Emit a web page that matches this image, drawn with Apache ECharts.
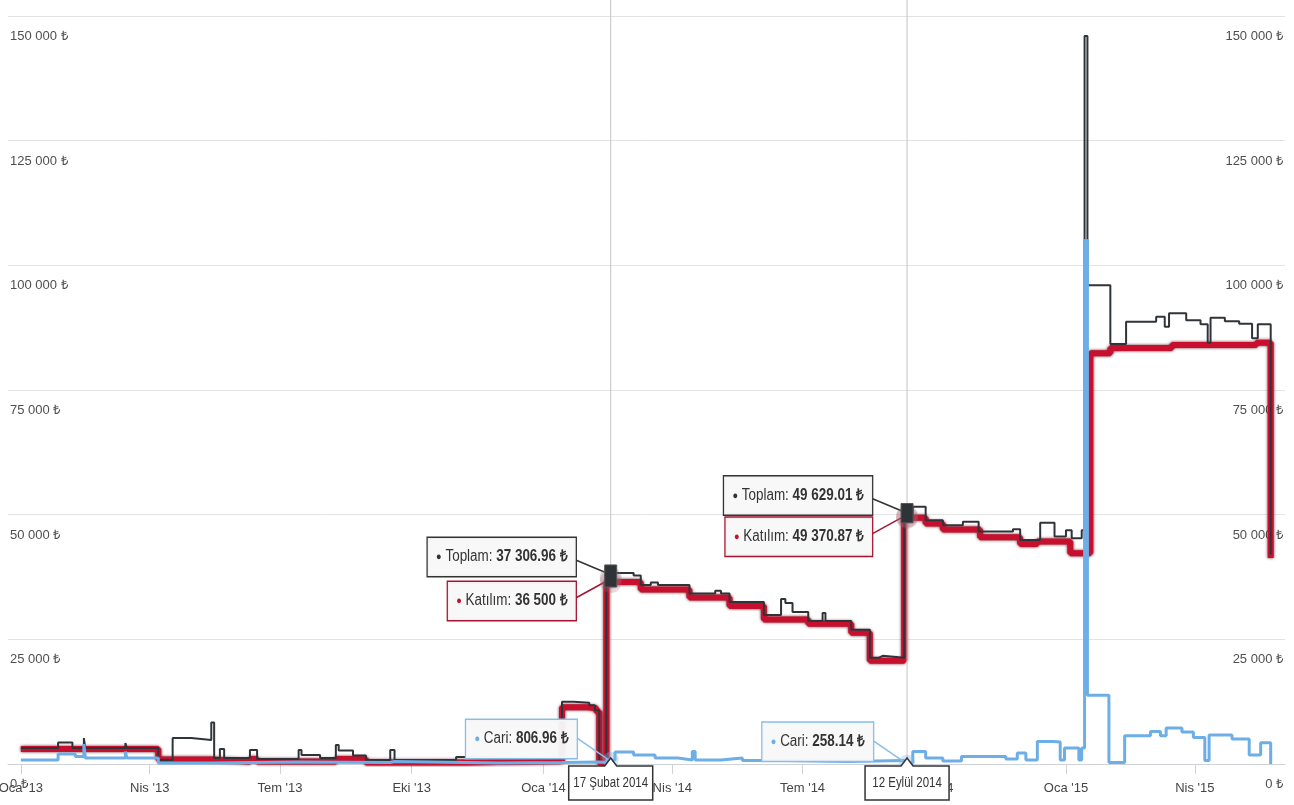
<!DOCTYPE html>
<html>
<head>
<meta charset="utf-8">
<title>Hesap bakiyeleri</title>
<script src="https://cdn.jsdelivr.net/npm/echarts@6/dist/echarts.min.js"></script>
<style>
  html, body { margin: 0; padding: 0; background: #fff; }
  #chart { width: 1294px; height: 805px; }
</style>
</head>
<body>
<div id="chart"></div>
<script>
// eksen etiketleri
const tickDates = ['2013-01-01', '2013-04-01', '2013-07-01', '2013-10-01', '2014-01-01',
  '2014-04-01', '2014-07-01', '2014-10-01', '2015-01-01', '2015-04-01'];
const monthNames = ['Oca', 'Şub', 'Mar', 'Nis', 'May', 'Haz', 'Tem', 'Ağu', 'Eyl', 'Eki', 'Kas', 'Ara'];
const xRange = ['2012-12-23', '2015-06-03'];

// Toplam bakiye (değişim noktaları)
const toplamData = [
  ['2013-01-01', 3200], ['2013-01-27', 4300], ['2013-02-06', 3200], ['2013-02-14', 5200], ['2013-02-15', 3200],
  ['2013-03-15', 4200], ['2013-03-16', 3200], ['2013-04-07', 800], ['2013-04-17', 5200], ['2013-04-30', 4800],
  ['2013-05-14', 8300], ['2013-05-16', 1200], ['2013-05-20', 3000], ['2013-05-23', 1200], ['2013-06-10', 2800],
  ['2013-06-15', 1000], ['2013-07-14', 2800], ['2013-07-16', 1800], ['2013-07-29', 1200], ['2013-08-09', 3800],
  ['2013-08-11', 2700], ['2013-08-21', 1700], ['2013-08-30', 800], ['2013-09-16', 2800], ['2013-09-19', 800],
  ['2013-11-01', 1400], ['2013-11-08', 1000], ['2014-01-14', 12500], ['2014-01-22', 12300], ['2014-02-02', 11800],
  ['2014-02-06', 10800], ['2014-02-09', 300], ['2014-02-14', 37306.96], ['2014-02-19', 38300], ['2014-03-05', 37800],
  ['2014-03-10', 35900], ['2014-03-17', 36400], ['2014-03-22', 35900], ['2014-04-13', 34200], ['2014-05-01', 34750],
  ['2014-05-05', 34200], ['2014-05-11', 32500], ['2014-06-04', 29900], ['2014-06-16', 33100], ['2014-06-19', 32300],
  ['2014-06-24', 30500], ['2014-07-05', 28700], ['2014-07-15', 30300], ['2014-07-17', 28700], ['2014-08-04', 26900],
  ['2014-08-17', 21300], ['2014-08-23', 21700], ['2014-08-26', 21300], ['2014-09-10', 49629.01], ['2014-09-16', 51600],
  ['2014-09-25', 48900], ['2014-10-07', 47900], ['2014-10-21', 48600], ['2014-11-01', 46600], ['2014-11-25', 47100],
  ['2014-11-30', 44900], ['2014-12-14', 48400], ['2014-12-24', 45600], ['2015-01-01', 46900], ['2015-01-05', 45250],
  ['2015-01-12', 46900], ['2015-01-14', 146000], ['2015-01-16', 96000], ['2015-02-01', 84200], ['2015-02-12', 88700],
  ['2015-03-05', 89700], ['2015-03-11', 87700], ['2015-03-14', 90400], ['2015-03-26', 89000], ['2015-04-05', 88200],
  ['2015-04-10', 84500], ['2015-04-12', 89500], ['2015-04-22', 88800], ['2015-05-02', 88300], ['2015-05-11', 85400],
  ['2015-05-15', 88200], ['2015-05-24', 42000]
];

// Katılım hesabı
const katilimData = [
  ['2013-01-01', 3000], ['2013-04-07', 900], ['2013-05-14', 500], ['2013-06-10', 1000], ['2013-06-15', 500],
  ['2013-08-09', 1000], ['2013-08-30', 300], ['2013-11-08', 600], ['2014-01-14', 11400], ['2014-02-01', 11200],
  ['2014-02-07', 10500], ['2014-02-09', 200], ['2014-02-14', 36500], ['2014-03-10', 35000], ['2014-04-13', 33400],
  ['2014-05-11', 31700], ['2014-06-04', 29000], ['2014-07-05', 28100], ['2014-08-04', 26300], ['2014-08-17', 20700],
  ['2014-09-10', 49370.87], ['2014-09-25', 48250], ['2014-10-07', 47050], ['2014-11-02', 45450], ['2014-11-30', 44100],
  ['2014-12-12', 44600], ['2015-01-04', 42250], ['2015-01-18', 82350], ['2015-02-01', 83400], ['2015-03-16', 84000],
  ['2015-05-14', 84470], ['2015-05-24', 41300]
];

// Cari hesap
const cariData = [
  ['2013-01-01', 800], ['2013-01-27', 2000], ['2013-02-08', 1500], ['2013-02-14', 4000], ['2013-02-15', 1200],
  ['2013-03-15', 2500], ['2013-03-16', 1200], ['2013-04-07', 200], ['2013-05-14', 400], ['2013-07-14', 300],
  ['2013-09-16', 500], ['2013-09-19', 200], ['2013-12-01', 300], ['2014-01-14', 400], ['2014-02-09', 300],
  ['2014-02-14', 806.96], ['2014-02-20', 2400], ['2014-03-05', 1800], ['2014-03-20', 1200], ['2014-04-05', 800],
  ['2014-04-15', 2500], ['2014-04-17', 800], ['2014-05-05', 1200], ['2014-05-20', 700], ['2014-06-20', 500],
  ['2014-08-01', 700], ['2014-09-10', 258.14], ['2014-09-16', 2500], ['2014-09-25', 1200], ['2014-10-07', 600],
  ['2014-10-20', 1500], ['2014-11-20', 1000], ['2014-11-28', 2200], ['2014-12-04', 800], ['2014-12-12', 4500],
  ['2014-12-23', 4400], ['2014-12-28', 800], ['2014-12-31', 3200], ['2015-01-10', 800], ['2015-01-12', 3200],
  ['2015-01-14', 105000], ['2015-01-16', 13800], ['2015-01-31', 300], ['2015-02-11', 5660], ['2015-03-01', 6500],
  ['2015-03-08', 5660], ['2015-03-12', 7200], ['2015-03-23', 6400], ['2015-03-31', 5300], ['2015-04-08', 700],
  ['2015-04-11', 5800], ['2015-04-27', 5000], ['2015-05-09', 1800], ['2015-05-17', 4250], ['2015-05-24', 0]
];

// ekran görüntüsündeki iki tooltip
const hoverDates = ['2014-02-17', '2014-09-12'];
const hoverLabels = ['17 Şubat 2014', '12 Eylül 2014'];
const hoverToplam = [37306.96, 49629.01];
const hoverKatilim = [36500, 49370.87];
const hoverCari = [806.96, 258.14];

const FONT = "'Liberation Sans', Arial, sans-serif";
const NARROW = 0.84; // dar yazı tipi etkisi
const C_TOPLAM = '#2f3439';
const C_KATILIM = '#c8102e';
const C_CARI = '#6eaee6';

// tarih -> UTC zaman damgası
function ts(s) {
  const p = s.split('-').map(Number);
  return Date.UTC(p[0], p[1] - 1, p[2]);
}
const toTs = arr => arr.map(d => [ts(d[0]), d[1]]);

function tl(v) {
  const parts = String(v).split('.');
  const intPart = parts[0].replace(/\B(?=(\d{3})+(?!\d))/g, ' ');
  return intPart + (parts[1] ? '.' + parts[1] : '') + ' ₺';
}

const chart = echarts.init(document.getElementById('chart'));

const yLabel = {
  inside: true,
  margin: 2,
  verticalAlign: 'top',
  padding: [14, 0, 0, 0],
  color: '#4f4f4f',
  fontSize: 13,
  fontFamily: FONT,
  formatter: tl
};

const tickTs = tickDates.map(ts);

chart.setOption({
  animation: false,
  backgroundColor: '#fff',
  grid: { left: 8, right: 9, top: 16, bottom: 41, outerBoundsMode: 'none', containLabel: false },
  xAxis: {
    type: 'value',
    min: ts(xRange[0]),
    max: ts(xRange[1]),
    axisLine: { lineStyle: { color: '#cfd3d8' } },
    axisTick: { customValues: tickTs, length: 10, lineStyle: { color: '#cfd3d8' } },
    axisLabel: {
      customValues: tickTs,
      margin: 18,
      color: '#454545',
      fontSize: 13,
      fontFamily: FONT,
      formatter: function (val) {
        const d = new Date(val);
        return monthNames[d.getUTCMonth()] + " '" + String(d.getUTCFullYear()).slice(2);
      }
    },
    splitLine: { show: false }
  },
  yAxis: [
    {
      type: 'value', position: 'left', min: 0, max: 150000, interval: 25000,
      axisLine: { show: false }, axisTick: { show: false },
      axisLabel: yLabel,
      splitLine: { lineStyle: { color: '#e3e3e3' } }
    },
    {
      type: 'value', position: 'right', min: 0, max: 150000, interval: 25000,
      axisLine: { show: false }, axisTick: { show: false },
      axisLabel: yLabel,
      splitLine: { show: false }
    }
  ],
  series: [
    {
      name: 'Katılım', type: 'line', step: 'end', showSymbol: false,
      data: toTs(katilimData), z: 2,
      lineStyle: { color: C_KATILIM, width: 6, shadowColor: 'rgba(80,0,20,0.9)', shadowBlur: 3 },
      itemStyle: { color: C_KATILIM }
    },
    {
      name: 'Toplam', type: 'line', step: 'end', showSymbol: false,
      data: toTs(toplamData), z: 3,
      lineStyle: { color: C_TOPLAM, width: 2 },
      itemStyle: { color: C_TOPLAM }
    },
    {
      name: 'Cari', type: 'line', step: 'end', showSymbol: false,
      data: toTs(cariData), z: 4,
      lineStyle: { color: C_CARI, width: 3 },
      itemStyle: { color: C_CARI }
    }
  ]
});

// tooltip kutuları, çizgiler ve tarih etiketleri
function tipBox(name, value, right, cy, border, dot) {
  return {
    type: 'text', z: 120, x: right, y: cy, scaleX: NARROW,
    style: {
      text: '{d|●} ' + name + ': {b|' + value + '}',
      x: 0, y: 0,
      align: 'right', verticalAlign: 'middle',
      fontSize: 16, fontFamily: FONT, fill: '#333',
      rich: {
        d: { fill: dot, fontSize: 11, fontFamily: FONT },
        b: { fill: '#333', fontSize: 16, fontWeight: 'bold', fontFamily: FONT }
      },
      backgroundColor: 'rgba(248,248,248,0.96)',
      borderColor: border, borderWidth: 1.5,
      padding: [11, 10, 11, 10]
    }
  };
}

const gfx = [];
const toPx = (d, v) => chart.convertToPixel({ xAxisIndex: 0, yAxisIndex: 0 }, [ts(d), v]);
hoverDates.forEach(function (d, i) {
  const pT = toPx(d, hoverToplam[i]);
  const pK = toPx(d, hoverKatilim[i]);
  const pC = toPx(d, hoverCari[i]);
  const base = toPx(d, 0)[1];
  const px = pT[0];
  const right = px - 35;

  gfx.push({ type: 'line', z: 50, shape: { x1: px, y1: 0, x2: px, y2: base + 2 },
    style: { stroke: '#c4c4c4', lineWidth: 1 } });

  // bağlantı çizgileri
  gfx.push({ type: 'line', z: 110, shape: { x1: right, y1: pT[1] - 18, x2: px - 4, y2: pT[1] - 5 },
    style: { stroke: '#333', lineWidth: 1.5 } });
  gfx.push({ type: 'line', z: 110, shape: { x1: right, y1: pK[1] + 16, x2: px - 4, y2: pK[1] - 1 },
    style: { stroke: '#a31530', lineWidth: 1.5 } });
  gfx.push({ type: 'line', z: 110, shape: { x1: right + 1, y1: pC[1] - 22, x2: px - 2, y2: pC[1] },
    style: { stroke: '#89bde8', lineWidth: 1.5 } });

  // hover işaretleri
  gfx.push({ type: 'circle', z: 111, shape: { cx: px, cy: pT[1], r: 11 }, style: { fill: 'rgba(150,110,120,0.3)' } });
  gfx.push({ type: 'circle', z: 111, shape: { cx: px, cy: pK[1], r: 11 }, style: { fill: 'rgba(170,90,110,0.25)' } });
  gfx.push({ type: 'rect', z: 112, shape: { x: px - 6, y: pT[1] - 13, width: 12, height: pK[1] - pT[1] + 18 },
    style: { fill: '#2e3338', stroke: '#555', lineWidth: 1 } });
  gfx.push({ type: 'circle', z: 111, shape: { cx: px, cy: pC[1], r: 8 }, style: { fill: 'rgba(124,181,236,0.35)' } });

  gfx.push(tipBox('Toplam', tl(hoverToplam[i]), right, pT[1] - 21, '#333', C_TOPLAM));
  gfx.push(tipBox('Katılım', tl(hoverKatilim[i]), right, pK[1] + 19, '#a31530', C_KATILIM));
  gfx.push(tipBox('Cari', tl(hoverCari[i]), right + 1, pC[1] - 21, '#89bde8', C_CARI));

  // x ekseni tarih etiketi
  const top = base + 2, bot = base + 36, half = 42;
  gfx.push({
    type: 'polygon', z: 130,
    shape: { points: [[px - half, top], [px - 6, top], [px, top - 8], [px + 6, top], [px + half, top], [px + half, bot], [px - half, bot]] },
    style: { fill: '#fff', stroke: '#333', lineWidth: 1.5 }
  });
  gfx.push({
    type: 'text', z: 131, x: px, y: (top + bot) / 2, scaleX: 0.82,
    style: { text: hoverLabels[i], x: 0, y: 0, align: 'center', verticalAlign: 'middle',
      fontSize: 14, fontFamily: FONT, fill: '#333' }
  });
});

chart.setOption({ graphic: gfx });
</script>
</body>
</html>
